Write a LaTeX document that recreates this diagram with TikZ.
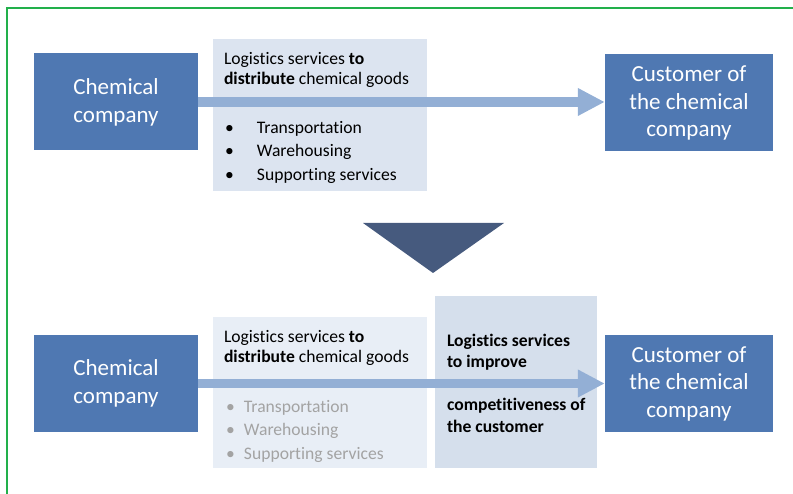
\documentclass[tikz,border=0pt]{standalone}
\usepackage{fontspec}
\setmainfont{Carlito}[Ligatures={NoCommon}]
\usepackage{xcolor}
\usetikzlibrary{arrows.meta, positioning}

\definecolor{firmblue}{HTML}{4F78B2}
\definecolor{svcpale}{HTML}{DCE4F0}
\definecolor{svcfaint}{HTML}{E8EEF6}
\definecolor{svcdeep}{HTML}{D5DFEC}
\definecolor{flowblue}{HTML}{93AFD5}
\definecolor{slate}{HTML}{465A7E}
\definecolor{framegreen}{HTML}{22B04B}
\definecolor{dimgray}{HTML}{A3A3A3}

\begin{document}
\begin{tikzpicture}[
    x=1pt, y=1pt,
    firm/.style={rectangle, fill=firmblue, text=white, align=center,
                 minimum width=164pt, minimum height=97pt, inner sep=0pt,
                 font=\fontsize{23}{28}\selectfont},
    customer/.style={firm, minimum width=168pt, font=\fontsize{23}{27.5}\selectfont},
    service/.style={rectangle, fill=svcpale, minimum width=214pt,
                    minimum height=152pt, inner sep=0pt},
    txt/.style={anchor=north west, align=left, inner sep=0pt,
                font=\fontsize{17.6}{20.6}\selectfont},
    bullets/.style={txt, font=\fontsize{17.6}{23.5}\selectfont},
    flow/.style={-{Triangle[length=27pt, width=26pt]}, line width=9.5pt, draw=flowblue},
]
\useasboundingbox (0,0) rectangle (793,494);

% frame
\draw[framegreen, line width=1.4pt] (7,0) -- (7,486) -- (793,486);

% --- before ---
\node[firm] (chem1) at (116,392) {Chemical\\company};
\node[service] (dist1) at (320,379) {};
\node[customer] (cust1) at (689,391) {Customer of\\the chemical\\company};

\node[txt, below right=13pt and 11pt of dist1.north west] (head1)
    {Logistics services \textbf{to}\\\textbf{distribute} chemical goods};
\node[bullets, below right=82pt and 12pt of dist1.north west] (list1)
    {\makebox[32pt][l]{\textbullet}Transportation\\
     \makebox[32pt][l]{\textbullet}Warehousing\\
     \makebox[32pt][l]{\textbullet}Supporting services};

\draw[flow] (chem1.east) -- (chem1.east -| cust1.west);

% down arrow
\fill[slate] (363,271) -- (504,271) -- (433,221) -- cycle;

% --- after ---
\node[firm] (chem2) at (116,110.5) {Chemical\\company};
\node[service, fill=svcfaint, minimum height=151pt] (dist2) at (320,101.5) {};
\node[service, fill=svcdeep, minimum width=162pt, minimum height=172pt] (comp2) at (516,112) {};
\node[customer] (cust2) at (689,110.5) {Customer of\\the chemical\\company};

\node[txt, below right=13pt and 11pt of dist2.north west] (head2)
    {Logistics services \textbf{to}\\\textbf{distribute} chemical goods};
\node[bullets, text=dimgray, below right=83pt and 13pt of dist2.north west] (list2)
    {\makebox[18pt][l]{\textbullet}Transportation\\
     \makebox[18pt][l]{\textbullet}Warehousing\\
     \makebox[18pt][l]{\textbullet}Supporting services};

\draw[flow] (chem2.east) -- (chem2.east -| cust2.west);

\node[txt, font=\fontsize{17.6}{21.5}\selectfont\bfseries,
      below right=38pt and 12pt of comp2.north west] (head3)
    {Logistics services\\to improve\\[21.5pt]competitiveness of\\the customer};

\end{tikzpicture}
\end{document}
